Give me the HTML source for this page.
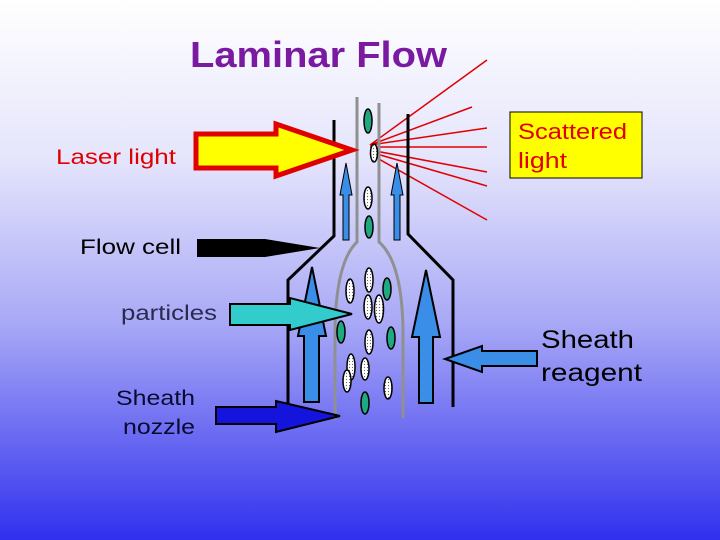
<!DOCTYPE html>
<html><head><meta charset="utf-8"><style>
html,body{margin:0;padding:0;width:720px;height:540px;overflow:hidden}
svg{display:block}
text{font-family:"Liberation Sans",sans-serif}
</style></head><body>
<svg width="720" height="540" viewBox="0 0 720 540">
<defs>
<linearGradient id="bg" x1="0" y1="0" x2="0" y2="1">
<stop offset="0" stop-color="#ffffff"/>
<stop offset="0.3" stop-color="#e4e4fc"/>
<stop offset="0.6" stop-color="#a8a8f6"/>
<stop offset="1" stop-color="#3030ee"/>
</linearGradient>
<pattern id="dots" width="3" height="3" patternUnits="userSpaceOnUse">
<rect width="3" height="3" fill="#fff"/><circle cx="1.5" cy="1.5" r="0.6" fill="#666"/>
</pattern>
</defs>
<rect width="720" height="540" fill="url(#bg)"/>
<text x="190" y="67" font-size="36" font-weight="bold" fill="#7a1aa0" textLength="257" lengthAdjust="spacingAndGlyphs">Laminar Flow</text>
<text x="56" y="164" font-size="21" fill="#e00000" textLength="120" lengthAdjust="spacingAndGlyphs">Laser light</text>
<text x="80" y="254" font-size="21" fill="#000" textLength="101" lengthAdjust="spacingAndGlyphs">Flow cell</text>
<text x="121" y="320" font-size="21" fill="#2a2a50" textLength="96" lengthAdjust="spacingAndGlyphs">particles</text>
<text x="116" y="405" font-size="21" fill="#0a0a30" textLength="79" lengthAdjust="spacingAndGlyphs">Sheath</text>
<text x="123" y="434" font-size="21" fill="#0a0a30" textLength="72" lengthAdjust="spacingAndGlyphs">nozzle</text>
<text x="541" y="348" font-size="25" fill="#000" textLength="93" lengthAdjust="spacingAndGlyphs">Sheath</text>
<text x="541" y="381" font-size="25" fill="#000" textLength="101" lengthAdjust="spacingAndGlyphs">reagent</text>
<rect x="510" y="112" width="132" height="66" fill="#ffff00" stroke="#000" stroke-width="1"/>
<text x="518" y="139" font-size="22" fill="#e00000" textLength="109" lengthAdjust="spacingAndGlyphs">Scattered</text>
<text x="518" y="168" font-size="22" fill="#e00000" textLength="49" lengthAdjust="spacingAndGlyphs">light</text>
<g stroke="#e00000" stroke-width="1.5">
<line x1="370" y1="145" x2="487" y2="60"/>
<line x1="370" y1="145" x2="472" y2="107"/>
<line x1="370" y1="145" x2="487" y2="128"/>
<line x1="370" y1="147" x2="487" y2="147"/>
<line x1="370" y1="150" x2="487" y2="172"/>
<line x1="370" y1="152" x2="487" y2="186"/>
<line x1="370" y1="154" x2="487" y2="220"/>
</g>
<g fill="none" stroke="#000" stroke-width="3">
<polyline points="334,120 334,236 288,280 288,422"/>
<polyline points="408,114 408,234 453,280 453,407"/>
</g>
<g fill="none" stroke="#909090" stroke-width="3">
<path d="M357,97 V242 Q336,262 335,330 V420"/>
<path d="M379,103 V242 Q402,262 403,330 V418"/>
</g>
<g fill="#3a8ee8" stroke="#000" stroke-width="1">
<path d="M343,240 V195 H340 L346,163 L352,195 H349 V240 Z"/>
<path d="M394,240 V195 H391 L397,163 L403,195 H400 V240 Z"/>
<path d="M304,402 V336 H298 L312,267 L326,336 H319 V402 Z" stroke-width="2"/>
<path d="M419,403 V337 H412 L426,270 L440,337 H433 V403 Z" stroke-width="2"/>
</g>
<path d="M196,134 H276 V124 L352,150 L276,176 V168 H196 Z" fill="#ffff00" stroke="#e00000" stroke-width="5" stroke-linejoin="miter"/>
<path d="M197,239 H265 L320,248 L265,257 H197 Z" fill="#000"/>
<path d="M230,304 H290 V298 L352,314 L290,330 V325 H230 Z" fill="#33cccc" stroke="#000" stroke-width="2"/>
<path d="M216,407 H276 V401 L340,416 L276,432 V424 H216 Z" fill="#1414dc" stroke="#000" stroke-width="2"/>
<path d="M537,351 H482 V346 L445,359 L482,372 V366 H537 Z" fill="#3a8ee8" stroke="#000" stroke-width="2"/>
<g stroke="#000" stroke-width="1.5" fill="#20a880">
<ellipse cx="368" cy="121" rx="4" ry="12"/>
<ellipse cx="369" cy="227" rx="4" ry="11"/>
<ellipse cx="387" cy="289" rx="4" ry="11"/>
<ellipse cx="341" cy="332" rx="4" ry="11"/>
<ellipse cx="391" cy="338" rx="4" ry="11"/>
<ellipse cx="365" cy="403" rx="4" ry="11"/>
</g>
<g stroke="#000" stroke-width="1.5" fill="url(#dots)">
<ellipse cx="374" cy="153" rx="3.5" ry="9"/>
<ellipse cx="368" cy="198" rx="4" ry="11"/>
<ellipse cx="369" cy="280" rx="4" ry="12"/>
<ellipse cx="350" cy="291" rx="4" ry="12"/>
<ellipse cx="368" cy="307" rx="4" ry="12"/>
<ellipse cx="379" cy="309" rx="4.5" ry="14"/>
<ellipse cx="369" cy="342" rx="4" ry="12"/>
<ellipse cx="351" cy="367" rx="4" ry="13"/>
<ellipse cx="365" cy="369" rx="4" ry="11"/>
<ellipse cx="347" cy="381" rx="4" ry="11"/>
<ellipse cx="388" cy="388" rx="4" ry="11"/>
</g>
</svg>
</body></html>
